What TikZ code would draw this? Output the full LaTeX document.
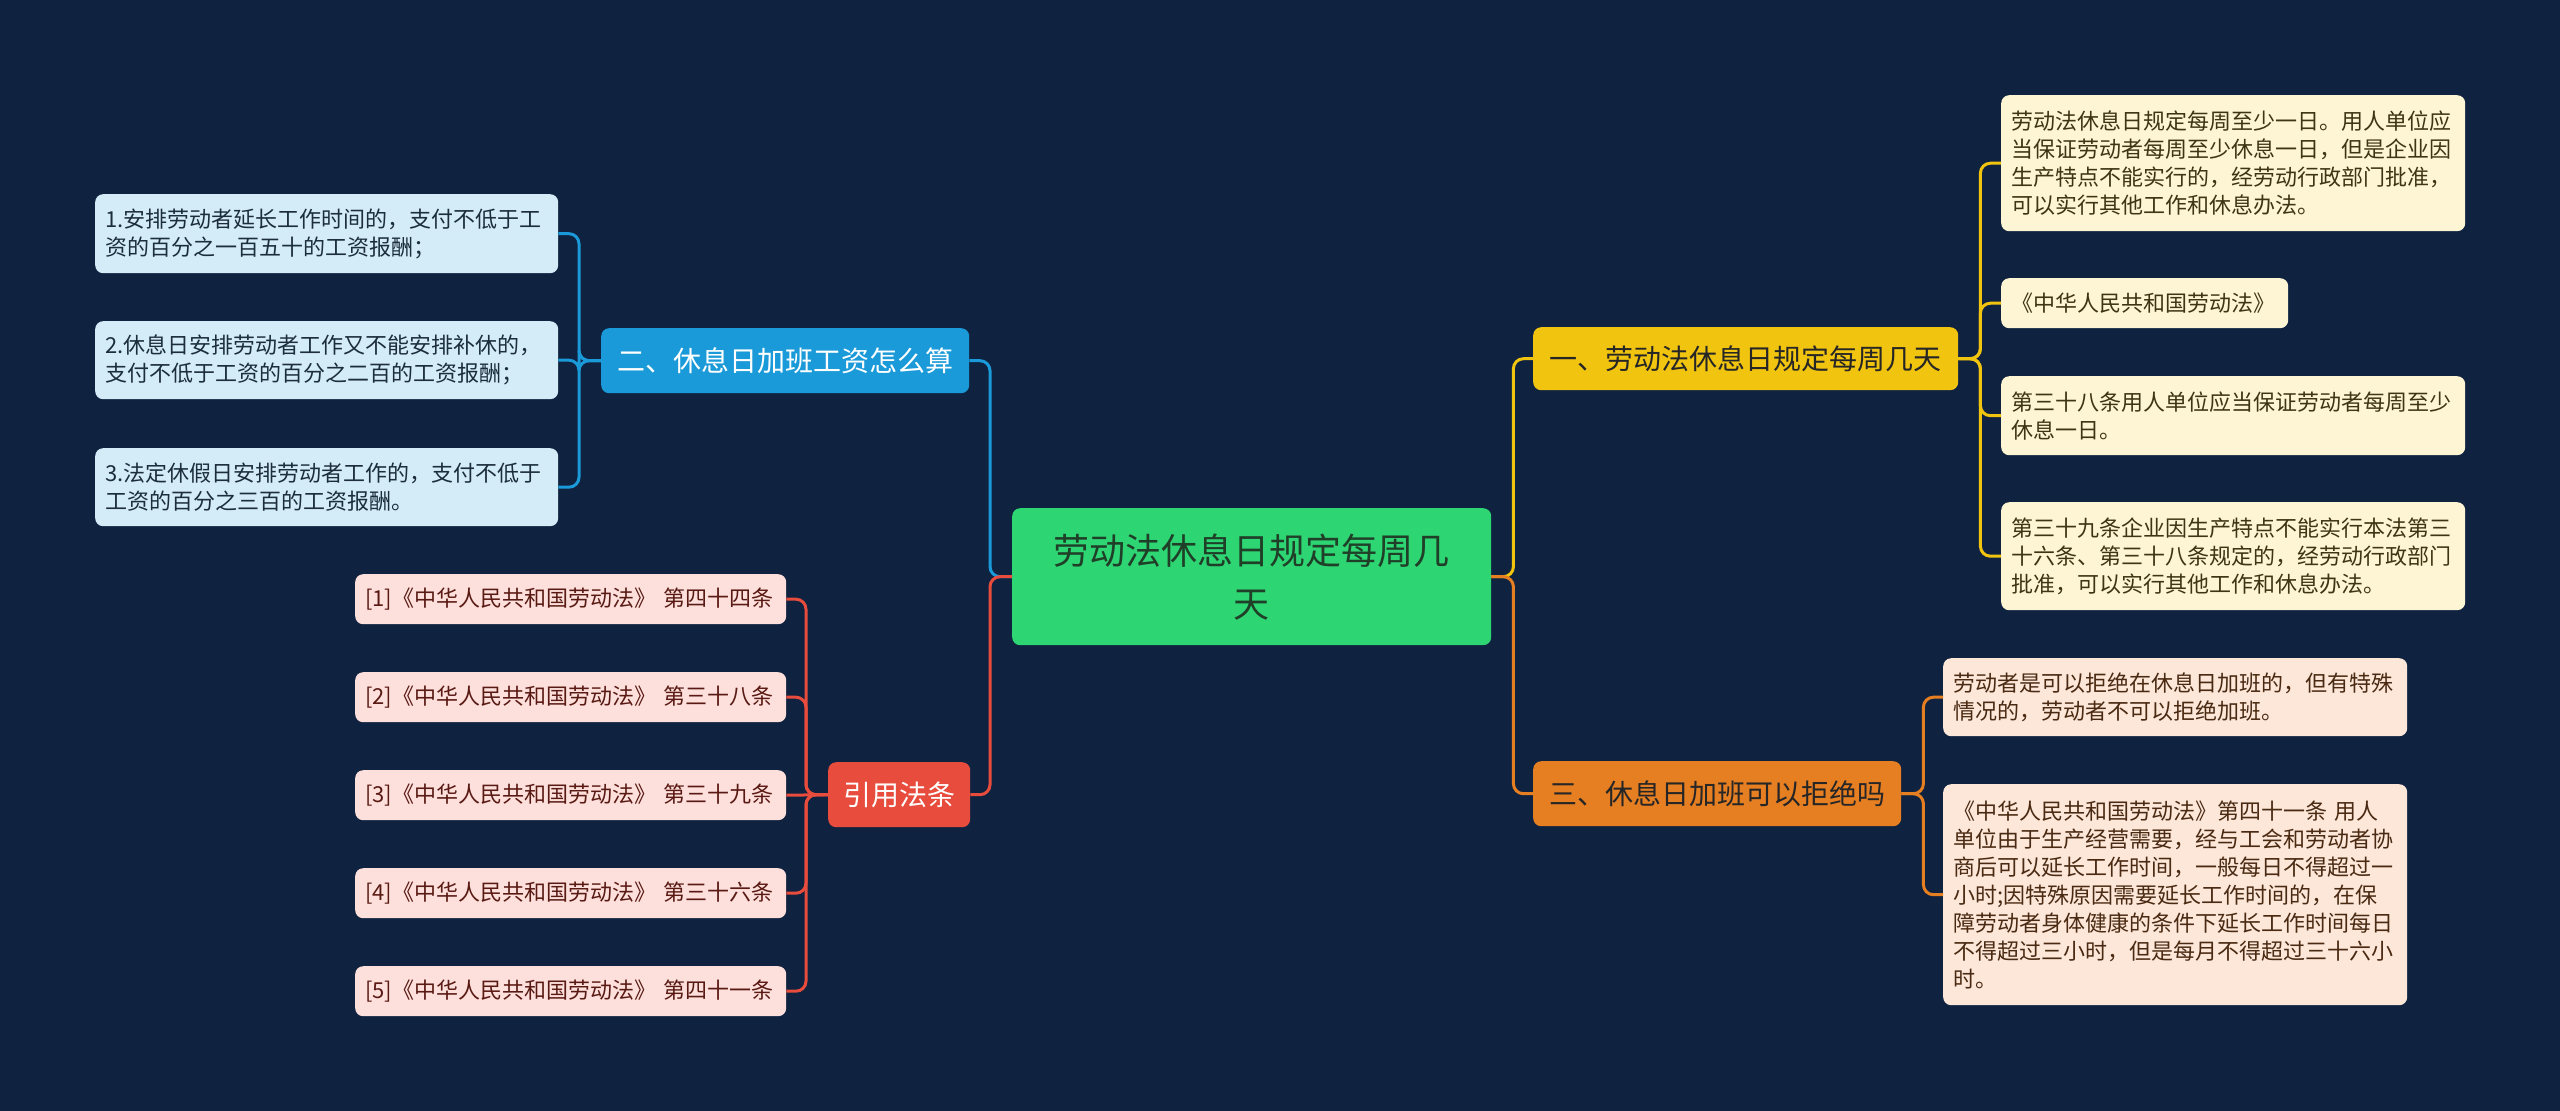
\documentclass[tikz,border=0pt]{standalone}
\usepackage{fontspec}
\setmainfont{Noto Sans CJK SC}
\definecolor{bg}{HTML}{0F2240}
\definecolor{cgreen}{HTML}{2ED573}
\definecolor{cyellow}{HTML}{F1C40F}
\definecolor{corange}{HTML}{E67E22}
\definecolor{cblue}{HTML}{1A9AD8}
\definecolor{cred}{HTML}{E74C3C}
\definecolor{lyellow}{HTML}{FDF5D3}
\definecolor{lorange}{HTML}{FCE7D9}
\definecolor{lblue}{HTML}{D4ECF8}
\definecolor{lred}{HTML}{FDE0DC}
\definecolor{tyellow}{HTML}{3D3514}
\definecolor{torange}{HTML}{4A2A12}
\definecolor{tblue}{HTML}{1C2E3C}
\definecolor{tred}{HTML}{5A1A14}
\definecolor{tgreen}{HTML}{1F3F28}
\begin{document}
\begin{tikzpicture}[x=1pt,y=-1pt,
  box/.style={rounded corners=8pt, anchor=north west, inner ysep=0pt, inner xsep=10pt},
  leaf/.style={box, align=left, font=\fontsize{22}{28}\selectfont},
  branch/.style={box, inner xsep=0pt, align=center, font=\fontsize{28}{34}\selectfont},
  link/.style={line width=3pt, rounded corners=10pt},
]
\useasboundingbox (0,0) rectangle (2560,1111);
\fill[bg] (0,0) rectangle (2560,1111);

% central
\node[box, fill=cgreen, text=tgreen, align=center, minimum width=479pt, minimum height=137pt,
      font=\fontsize{36}{53}\selectfont] (c) at (1012,508) {劳动法休息日规定每周几\\天};

% branches
\node[branch, fill=cyellow, text=black!85, minimum width=425pt, minimum height=63pt] (b1) at (1533,327) {一、劳动法休息日规定每周几天};
\node[branch, fill=corange, text=black!85, minimum width=368pt, minimum height=65pt] (b3) at (1533,761) {三、休息日加班可以拒绝吗};
\node[branch, fill=cblue, text=white, minimum width=368pt, minimum height=65pt] (b2) at (601,328) {二、休息日加班工资怎么算};
\node[branch, fill=cred, text=white, minimum width=142pt, minimum height=65pt] (b4) at (828,762) {引用法条};

% yellow leaves
\node[leaf, fill=lyellow, text=tyellow, text width=444pt, minimum height=136pt] (y1) at (2001,95)
 {劳动法休息日规定每周至少一日。用人单位应\\当保证劳动者每周至少休息一日，但是企业因\\生产特点不能实行的，经劳动行政部门批准，\\可以实行其他工作和休息办法。};
\node[leaf, fill=lyellow, text=tyellow, text width=267pt, minimum height=50pt] (y2) at (2001,278)
 {《中华人民共和国劳动法》};
\node[leaf, fill=lyellow, text=tyellow, text width=444pt, minimum height=79pt] (y3) at (2001,376)
 {第三十八条用人单位应当保证劳动者每周至少\\休息一日。};
\node[leaf, fill=lyellow, text=tyellow, text width=444pt, minimum height=108pt] (y4) at (2001,502)
 {第三十九条企业因生产特点不能实行本法第三\\十六条、第三十八条规定的，经劳动行政部门\\批准，可以实行其他工作和休息办法。};

% orange leaves
\node[leaf, fill=lorange, text=torange, text width=444pt, minimum height=78pt] (o1) at (1943,658)
 {劳动者是可以拒绝在休息日加班的，但有特殊\\情况的，劳动者不可以拒绝加班。};
\node[leaf, fill=lorange, text=torange, text width=444pt, minimum height=221pt] (o2) at (1943,784)
 {《中华人民共和国劳动法》第四十一条 用人\\单位由于生产经营需要，经与工会和劳动者协\\商后可以延长工作时间，一般每日不得超过一\\小时;因特殊原因需要延长工作时间的，在保\\障劳动者身体健康的条件下延长工作时间每日\\不得超过三小时，但是每月不得超过三十六小\\时。};

% blue leaves
\node[leaf, fill=lblue, text=tblue, text width=443pt, minimum height=79pt] (u1) at (95,194)
 {1.安排劳动者延长工作时间的，支付不低于工\\资的百分之一百五十的工资报酬；};
\node[leaf, fill=lblue, text=tblue, text width=443pt, minimum height=78pt] (u2) at (95,321)
 {2.休息日安排劳动者工作又不能安排补休的，\\支付不低于工资的百分之二百的工资报酬；};
\node[leaf, fill=lblue, text=tblue, text width=443pt, minimum height=78pt] (u3) at (95,448)
 {3.法定休假日安排劳动者工作的，支付不低于\\工资的百分之三百的工资报酬。};

% red leaves
\node[leaf, fill=lred, text=tred, text width=411pt, minimum height=50pt] (r1) at (355,574) {[1]《中华人民共和国劳动法》 第四十四条};
\node[leaf, fill=lred, text=tred, text width=411pt, minimum height=50pt] (r2) at (355,672) {[2]《中华人民共和国劳动法》 第三十八条};
\node[leaf, fill=lred, text=tred, text width=411pt, minimum height=50pt] (r3) at (355,770) {[3]《中华人民共和国劳动法》 第三十九条};
\node[leaf, fill=lred, text=tred, text width=411pt, minimum height=50pt] (r4) at (355,868) {[4]《中华人民共和国劳动法》 第三十六条};
\node[leaf, fill=lred, text=tred, text width=411pt, minimum height=50pt] (r5) at (355,966) {[5]《中华人民共和国劳动法》 第四十一条};

% connectors central -> branches
\draw[link, cyellow] (c.east) -- ++(22,0) |- (b1.west);
\draw[link, corange] (c.east) -- ++(22,0) |- (b3.west);
\draw[link, cblue] (c.west) -- ++(-22,0) |- (b2.east);
\draw[link, cred] (c.west) -- ++(-22,0) |- (b4.east);

% branch -> leaves
\foreach \n in {y1,y2,y3,y4} \draw[link, cyellow] (b1.east) -- ++(22,0) |- (\n.west);
\foreach \n in {o1,o2} \draw[link, corange] (b3.east) -- ++(22,0) |- (\n.west);
\foreach \n in {u1,u2,u3} \draw[link, cblue] (b2.west) -- ++(-22,0) |- (\n.east);
\foreach \n in {r1,r2,r4,r5} \draw[link, cred] (b4.west) -- ++(-22,0) |- (\n.east);
\draw[link, cred] (b4.west) -- (r3.east);
\end{tikzpicture}
\end{document}
